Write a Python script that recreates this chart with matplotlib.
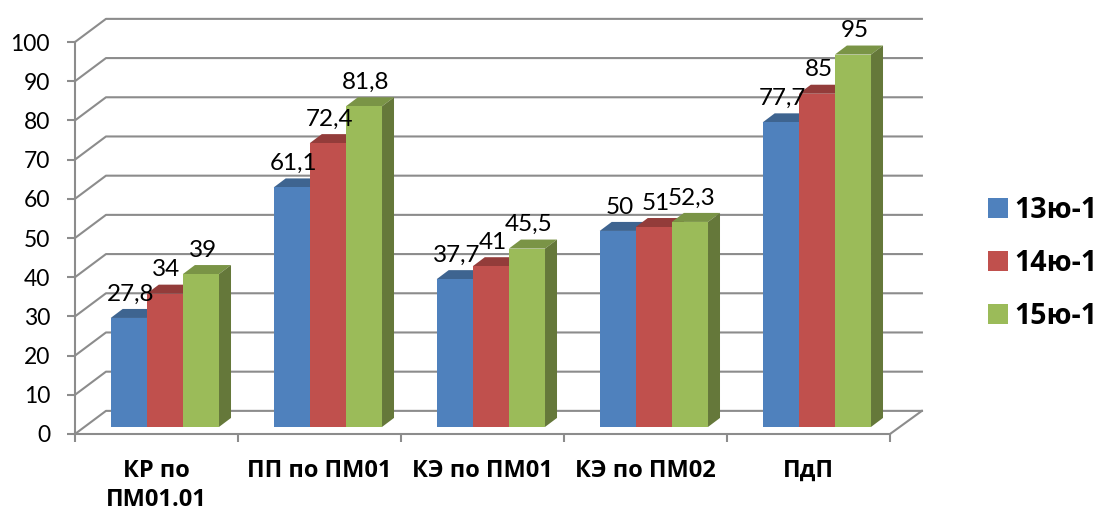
import matplotlib
matplotlib.use("Agg")
import matplotlib.pyplot as plt
from matplotlib.patches import Polygon, Patch

plt.rcParams['font.family'] = ['Lato', 'Open Sans', 'DejaVu Sans']
BOLD_FONT = ['Open Sans', 'DejaVu Sans']

categories = ['КР по\nПМ01.01', 'ПП по ПМ01', 'КЭ по ПМ01', 'КЭ по ПМ02', 'ПдП']
series_names = ['13ю-1', '14ю-1', '15ю-1']
vals_13 = [27.8, 61.1, 37.7, 50, 77.7]
vals_14 = [34, 72.4, 41, 51, 85]
vals_15 = [39, 81.8, 45.5, 52.3, 95]
y_ticks = [0, 10, 20, 30, 40, 50, 60, 70, 80, 90, 100]

front = ['#4f81bd', '#c0504d', '#9bbb59']
top = ['#3e6490', '#933c3a', '#7a9446']
side = ['#33537a', '#7c3230', '#65783a']
grid_col = '#8c8c8c'

# fake 3d offsets, in data units
wall_dx, wall_dy = 0.19, 5.9
bar_dx, bar_dy = 0.0736, 2.3
bar_w = 0.2215
bar_start = 0.219
bar_base = 1.8

W, H = 1099, 511
fig = plt.figure(figsize=(W / 100, H / 100), dpi=100)
ax = fig.add_axes([75 / W, 1 - 434 / H, 815 / W, 392 / H])
ax.set_xlim(0, 5)
ax.set_ylim(0, 100)

# back wall gridlines + floor
for t in y_ticks:
    ax.plot([0, wall_dx, 5 + wall_dx * 1.03], [t, t + wall_dy, t + wall_dy],
            color=grid_col, lw=1.5, clip_on=False, zorder=1)
ax.plot([5, 5 + wall_dx * 1.03], [0, wall_dy], color=grid_col, lw=1.5, clip_on=False, zorder=1)

# bars
for i, vals in enumerate([vals_13, vals_14, vals_15]):
    for c, v in enumerate(vals):
        x0 = c + bar_start + i * bar_w
        x1 = x0 + bar_w
        y1 = v + bar_base
        ax.add_patch(Polygon([(x0, y1), (x1, y1), (x1 + bar_dx, y1 + bar_dy), (x0 + bar_dx, y1 + bar_dy)],
                             color=top[i], lw=0, clip_on=False, zorder=3 + i))
        ax.add_patch(Polygon([(x1, bar_base), (x1 + bar_dx, bar_base + bar_dy), (x1 + bar_dx, y1 + bar_dy), (x1, y1)],
                             color=side[i], lw=0, clip_on=False, zorder=3 + i))
        ax.bar(x0, v, bar_w, bottom=bar_base, align='edge', color=front[i], lw=0, clip_on=False, zorder=3 + i)
        ax.text(x0 + bar_w / 2 + 0.01, y1 + 6.1, str(v).replace('.', ','), ha='center', va='center',
                fontsize=17.5, color='black', zorder=10, clip_on=False)

for s in ['top', 'right']:
    ax.spines[s].set_visible(False)
for s in ['left', 'bottom']:
    ax.spines[s].set_color(grid_col)
    ax.spines[s].set_linewidth(1.5)
    ax.spines[s].set_zorder(2)

ax.set_yticks(y_ticks)
ax.tick_params(axis='y', length=6, width=1.5, color=grid_col, pad=12, labelsize=16.5)
ax.set_xticks(range(6))
ax.set_xticklabels([])
ax.tick_params(axis='x', which='major', length=6, width=1.5, color=grid_col)
ax.set_xticks([c + 0.5 for c in range(5)], minor=True)
ax.set_xticklabels(categories, minor=True, fontweight='bold', family=BOLD_FONT, fontsize=17, linespacing=1.3, va='top')
ax.tick_params(axis='x', which='minor', length=0, pad=18)
ax.patch.set_alpha(0)

handles = [Patch(facecolor=front[i], lw=0, label=series_names[i]) for i in range(3)]
fig.legend(handles=handles, loc='center left', bbox_to_anchor=(988 / W, 1 - 263.5 / H), frameon=False,
           prop={'family': BOLD_FONT, 'weight': 'bold', 'size': 20.5}, handlelength=0.7, handleheight=0.7,
           handletextpad=0.22, labelspacing=0.84, borderpad=0, borderaxespad=0)

fig.savefig('out.png', dpi=100)
